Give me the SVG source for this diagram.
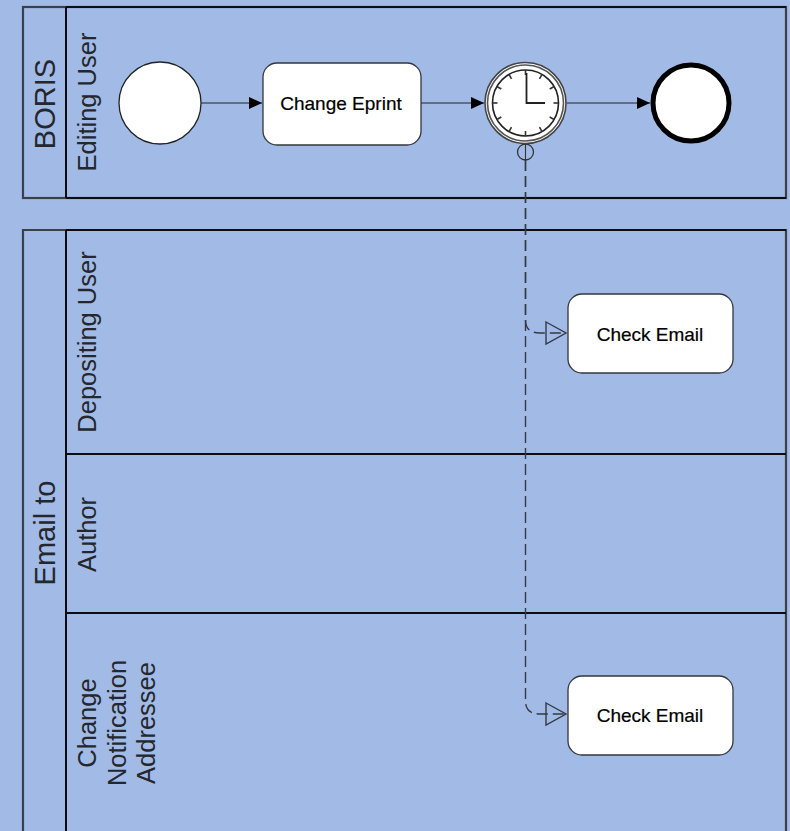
<svg xmlns="http://www.w3.org/2000/svg" width="790" height="831" viewBox="0 0 790 831">
<style>
.pool{fill:none;stroke:#3a3f48;stroke-width:2.2}
.lane{fill:none;stroke:#0b0d12;stroke-width:2}
.lbl{font-family:"Liberation Sans",Arial,sans-serif;fill:#24272d;text-anchor:middle}
.big{font-size:29px}
.mid{font-size:25.5px}
.task{fill:#fff;stroke:#33373d;stroke-width:1.3}
.tl{font-family:"Liberation Sans",Arial,sans-serif;font-size:19px;fill:#000;stroke:#000;stroke-width:0.2;text-anchor:middle}
.flow{fill:none;stroke:#222;stroke-width:1.1}
.msg{fill:none;stroke:#333a44;stroke-width:1.4;stroke-dasharray:11 5}
.tick{stroke:#333;stroke-width:1.6}
</style>
<defs>
<marker id="arr" markerUnits="userSpaceOnUse" markerWidth="14" markerHeight="14" refX="13" refY="7" orient="auto"><path d="M0 1L13 7L0 13Z" fill="#000"/></marker>
</defs>
<rect width="790" height="831" fill="#a2bbe6"/>
<g id="pool-boris">
<rect class="pool" x="23" y="7" width="763" height="191"/>
<line class="lane" x1="66" y1="7" x2="66" y2="198"/>
<line class="lane" x1="66" y1="7" x2="786" y2="7"/>
<line class="lane" x1="66" y1="198" x2="786" y2="198"/>
<text class="lbl big" transform="translate(55,104) rotate(-90)">BORIS</text>
<text class="lbl mid" transform="translate(96,102) rotate(-90)">Editing User</text>
</g>
<g id="pool-email">
<path class="pool" d="M23 831V230H786V831"/>
<line class="lane" x1="66" y1="230" x2="66" y2="831"/>
<line class="lane" x1="66" y1="230" x2="786" y2="230"/>
<line class="lane" x1="66" y1="454" x2="786" y2="454"/>
<line class="lane" x1="66" y1="613" x2="786" y2="613"/>
<text class="lbl big" transform="translate(55,533) rotate(-90)">Email to</text>
<text class="lbl mid" transform="translate(96,342) rotate(-90)">Depositing User</text>
<text class="lbl mid" transform="translate(96,534.5) rotate(-90)">Author</text>
<text class="lbl mid" transform="translate(96,723) rotate(-90)">Change</text>
<text class="lbl mid" transform="translate(126,723) rotate(-90)">Notification</text>
<text class="lbl mid" transform="translate(155,723) rotate(-90)">Addressee</text>
</g>
<g id="connectors">
<line class="flow" x1="201" y1="103" x2="262" y2="103" marker-end="url(#arr)"/>
<line class="flow" x1="421" y1="103" x2="484" y2="103" marker-end="url(#arr)"/>
<line class="flow" x1="567" y1="103" x2="650" y2="103" marker-end="url(#arr)"/>
<path class="msg" d="M525.5 160V320Q525.5 333 540 333H566"/>
<path class="msg" d="M525.5 160V701Q525.5 714 540 714H566"/>
<path d="M546 322L566 333L546 344Z" fill="none" stroke="#333a44" stroke-width="1.4"/>
<path d="M546 703L566 714L546 725Z" fill="none" stroke="#333a44" stroke-width="1.4"/>
</g>
<g id="start"><circle cx="160" cy="103" r="41" fill="#fff" stroke="#222" stroke-width="1.3"/></g>
<g id="change-eprint">
<rect class="task" x="263" y="63" width="158" height="82" rx="14"/>
<text class="tl" x="341" y="110">Change Eprint</text>
</g>
<g id="timer">
<circle cx="525.5" cy="152" r="8" fill="none" stroke="#333" stroke-width="1.3"/>
<line x1="525.5" y1="144" x2="525.5" y2="160" stroke="#333" stroke-width="1.1"/>
<circle cx="525.5" cy="103" r="40.5" fill="#fff" stroke="#444" stroke-width="1.6"/>
<circle cx="525.5" cy="103" r="38" fill="none" stroke="#555" stroke-width="1.6"/>
<circle cx="525.5" cy="103" r="33" fill="none" stroke="#222" stroke-width="1.6"/>
<g class="tick">
<line x1="525.5" y1="70" x2="525.5" y2="75"/>
<line x1="542" y1="74.4" x2="539.5" y2="78.8"/>
<line x1="554.1" y1="86.5" x2="549.7" y2="89"/>
<line x1="558.5" y1="103" x2="553.5" y2="103"/>
<line x1="554.1" y1="119.5" x2="549.7" y2="117"/>
<line x1="542" y1="131.6" x2="539.5" y2="127.2"/>
<line x1="525.5" y1="136" x2="525.5" y2="131"/>
<line x1="509" y1="131.6" x2="511.5" y2="127.2"/>
<line x1="496.9" y1="119.5" x2="501.3" y2="117"/>
<line x1="492.5" y1="103" x2="497.5" y2="103"/>
<line x1="496.9" y1="86.5" x2="501.3" y2="89"/>
<line x1="509" y1="74.4" x2="511.5" y2="78.8"/>
</g>
<path d="M526.5 73V103H545" fill="none" stroke="#222" stroke-width="1.8"/>
</g>
<g id="end"><circle cx="691" cy="103" r="38" fill="#fff" stroke="#000" stroke-width="5"/></g>
<g id="check-email-1">
<rect class="task" x="568" y="294" width="165" height="79" rx="14"/>
<text class="tl" x="650" y="341">Check Email</text>
</g>
<g id="check-email-2">
<rect class="task" x="568" y="676" width="165" height="79" rx="14"/>
<text class="tl" x="650" y="722">Check Email</text>
</g>
</svg>
